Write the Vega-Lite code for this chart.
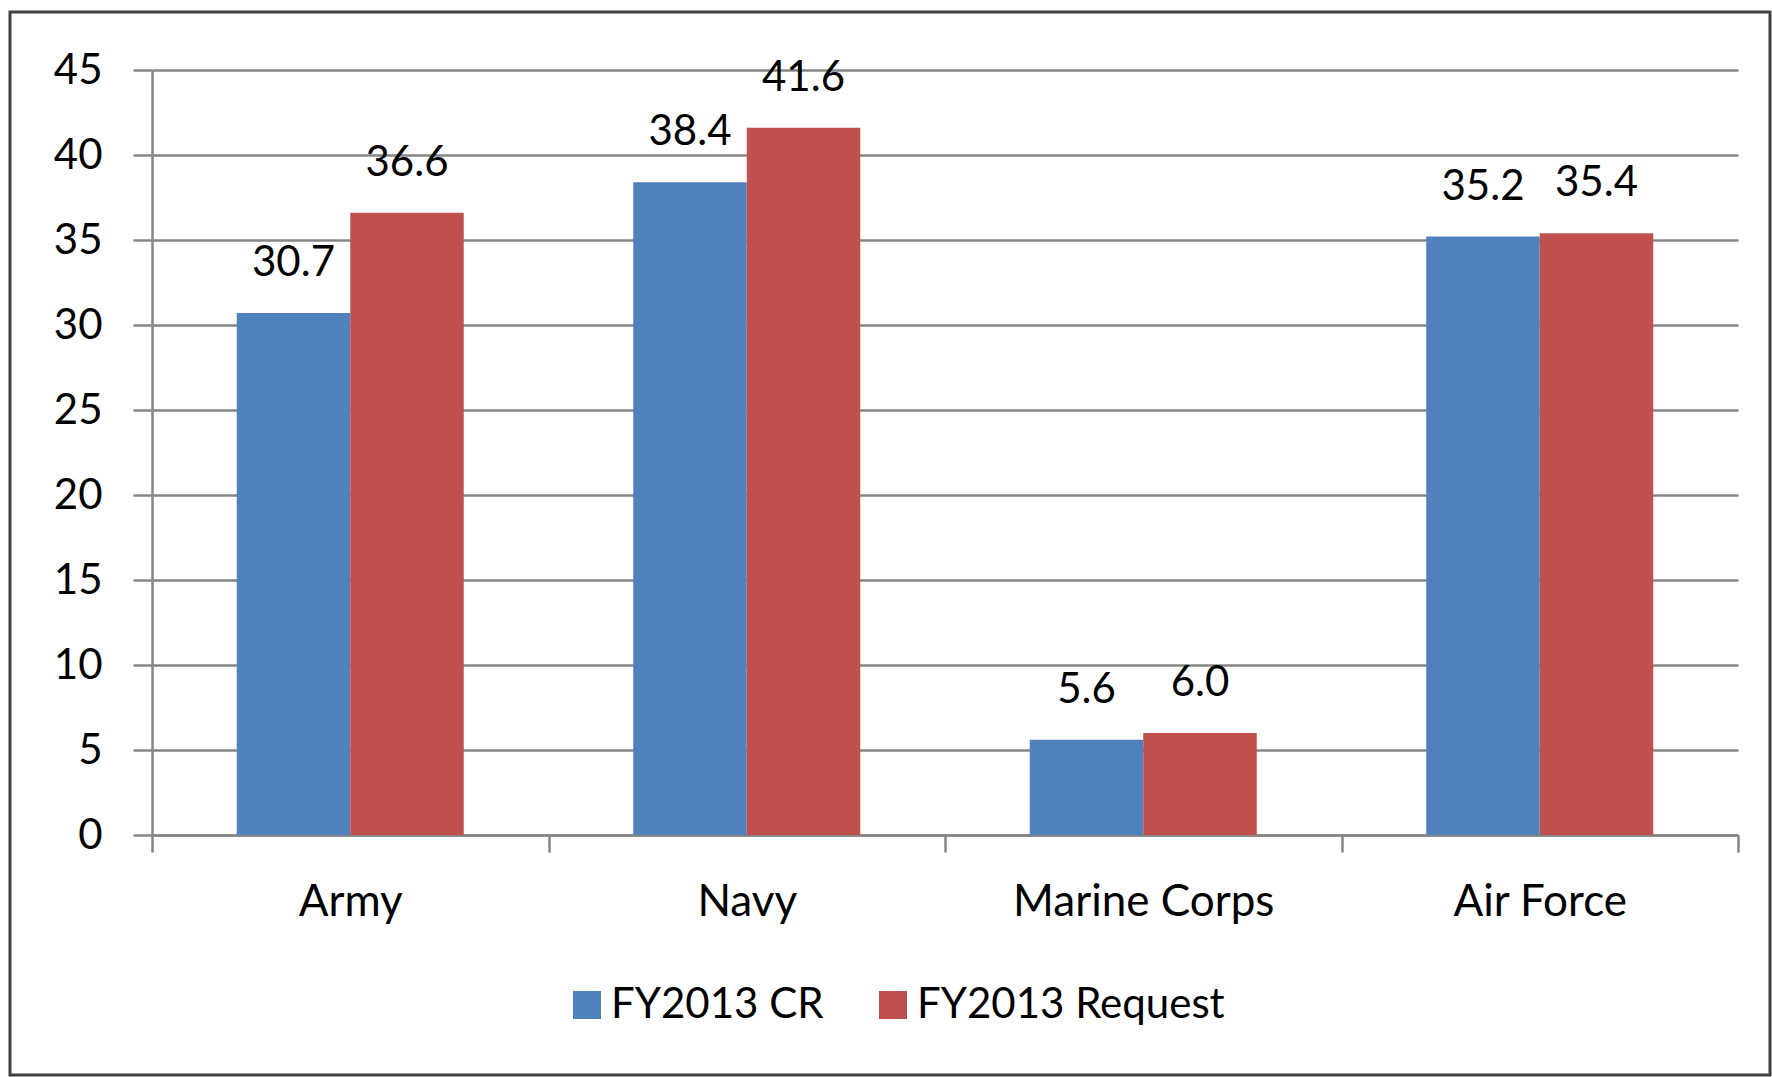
{
  "$schema": "https://vega.github.io/schema/vega-lite/v6.json",
  "width": 1760,
  "height": 1063,
  "autosize": {"type": "none"},
  "padding": {"left": 10, "top": 12, "right": 2, "bottom": 2},
  "background": "white",
  "config": {
    "view": {"stroke": "#404040", "strokeWidth": 3},
    "font": "Lato"
  },
  "data": {
    "values": [
      {"service": "Army", "series": "FY2013 CR", "value": 30.7},
      {"service": "Army", "series": "FY2013 Request", "value": 36.6},
      {"service": "Navy", "series": "FY2013 CR", "value": 38.4},
      {"service": "Navy", "series": "FY2013 Request", "value": 41.6},
      {"service": "Marine Corps", "series": "FY2013 CR", "value": 5.6},
      {"service": "Marine Corps", "series": "FY2013 Request", "value": 6.0},
      {"service": "Air Force", "series": "FY2013 CR", "value": 35.2},
      {"service": "Air Force", "series": "FY2013 Request", "value": 35.4}
    ]
  },
  "encoding": {
    "x": {
      "field": "service",
      "type": "nominal",
      "sort": ["Army", "Navy", "Marine Corps", "Air Force"],
      "scale": {"range": [142, 1728], "paddingInner": 0, "paddingOuter": 0},
      "axis": {
        "title": null,
        "orient": "bottom",
        "offset": -240,
        "labelAngle": 0,
        "domainColor": "#868686",
        "domainWidth": 2.5,
        "tickColor": "#868686",
        "tickWidth": 2.5,
        "tickSize": 17,
        "tickBand": "extent",
        "labelFont": "Lato",
        "labelFontSize": 44,
        "labelColor": "#000000",
        "labelBaseline": "alphabetic",
        "labelPadding": 63,
        "labelLimit": 0,
        "grid": false
      }
    },
    "xOffset": {
      "field": "series",
      "type": "nominal",
      "sort": ["FY2013 CR", "FY2013 Request"],
      "scale": {"paddingInner": 0, "paddingOuter": 0.7466}
    },
    "y": {
      "field": "value",
      "type": "quantitative",
      "scale": {"domain": [0, 45], "range": [823, 58], "nice": false, "zero": true},
      "axis": {
        "title": null,
        "orient": "left",
        "offset": -142,
        "values": [0, 5, 10, 15, 20, 25, 30, 35, 40, 45],
        "domainColor": "#868686",
        "domainWidth": 2.5,
        "tickColor": "#868686",
        "tickWidth": 2.5,
        "tickSize": 19,
        "grid": true,
        "gridColor": "#868686",
        "gridWidth": 2.5,
        "labelFont": "Lato",
        "labelFontSize": 42,
        "labelColor": "#000000",
        "labelPadding": 31
      }
    }
  },
  "layer": [
    {
      "mark": {"type": "bar"},
      "encoding": {
        "color": {
          "field": "series",
          "type": "nominal",
          "scale": {"domain": ["FY2013 CR", "FY2013 Request"], "range": ["#4F81BD", "#C0504D"]},
          "legend": {
            "title": null,
            "orient": "none",
            "legendX": 556,
            "legendY": 972,
            "direction": "horizontal",
            "symbolType": "square",
            "symbolSize": 784,
            "symbolStrokeWidth": 0,
            "symbolOpacity": 1,
            "labelFont": "Lato",
            "labelFontSize": 42,
            "labelColor": "#000000",
            "labelOffset": 3,
            "labelLimit": 0,
            "columnPadding": 48,
            "padding": 0
          }
        }
      }
    },
    {
      "mark": {"type": "text", "dy": -50, "baseline": "middle", "align": "center", "font": "Lato", "fontSize": 42, "color": "#000000"},
      "encoding": {
        "text": {"field": "value", "type": "quantitative", "format": ".1f"}
      }
    }
  ]
}
